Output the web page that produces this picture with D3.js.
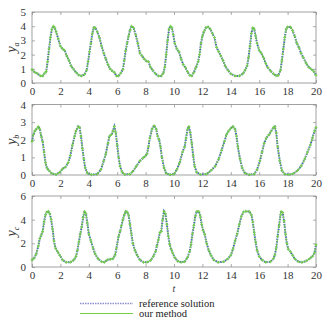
<!DOCTYPE html>
<html><head><meta charset="utf-8">
<script src="https://cdn.jsdelivr.net/npm/d3@7"></script>
<style>body{margin:0;background:#fff}svg{display:block}</style>
</head><body>
<svg id="c" width="331" height="329"></svg>
<script>
const xTicks = [0,2,4,6,8,10,12,14,16,18,20];
const yTicksA = [0,1,2,3,4,5];
const yTicksB = [0,1,2,3,4];
const yTicksC = [0,2,4,6];
const seriesNames = ["reference solution","our method"];

const tA = [0,0.2,0.4,0.6,0.75,0.9,1.0,1.1,1.2,1.3,1.4,1.5,1.6,1.7,1.85,2.0,2.15,2.3,2.45,2.6,2.75,2.9,3.1,3.3,3.5,3.7,3.85,3.95,4.05,4.15,4.25,4.35,4.45,4.6,4.75,4.9,5.05,5.2,5.35,5.5,5.65,5.8,5.95,6.1,6.25,6.4,6.5,6.6,6.7,6.8,6.9,7.0,7.15,7.3,7.45,7.6,7.75,7.9,8.05,8.2,8.35,8.5,8.7,8.9,9.1,9.25,9.35,9.45,9.55,9.65,9.75,9.85,9.95,10.05,10.2,10.35,10.5,10.65,10.8,10.95,11.1,11.25,11.4,11.55,11.7,11.8,11.9,12.0,12.1,12.25,12.4,12.55,12.7,12.85,13.0,13.15,13.3,13.45,13.6,13.8,14.0,14.3,14.6,14.85,15.0,15.15,15.25,15.35,15.45,15.55,15.65,15.75,15.85,16.0,16.15,16.3,16.45,16.6,16.8,17.0,17.2,17.35,17.5,17.6,17.7,17.8,17.9,18.0,18.2,18.35,18.5,18.65,18.8,18.95,19.1,19.3,19.5,19.7,19.85,20];
const yaRef = [0.95,0.75,0.65,0.5,0.5,0.7,0.8,1.5,2.4,3.2,3.8,4.0,3.9,3.6,3.1,2.6,2.4,2.3,1.9,1.6,1.2,1.0,0.75,0.55,0.5,0.6,0.9,1.5,2.2,2.8,3.5,3.9,3.9,3.6,3.2,2.6,2.1,1.7,1.3,1.0,0.85,0.75,0.5,0.5,0.7,0.95,1.6,2.3,2.8,3.3,3.7,4.0,3.9,3.4,2.8,2.1,1.9,1.7,1.55,1.5,1.1,0.9,0.65,0.5,0.5,0.7,1.1,2.0,3.0,3.8,4.0,3.9,3.4,2.8,2.4,2.2,1.7,1.3,1.1,0.8,0.55,0.5,0.75,1.1,1.5,2.0,2.8,3.3,3.6,3.9,3.95,3.8,3.5,3.2,2.5,2.2,1.9,1.6,1.2,0.9,0.65,0.5,0.5,0.65,0.9,1.2,1.8,2.6,3.5,3.9,3.8,3.3,2.8,2.3,2.1,1.8,1.4,1.1,0.85,0.65,0.5,0.55,0.9,1.6,2.4,3.2,3.8,3.95,3.95,3.7,3.3,2.8,2.5,2.1,1.8,1.4,1.1,0.95,0.8,0.55];
const yaOur = yaRef;

const tB = [0,0.1,0.2,0.3,0.45,0.55,0.65,0.75,0.85,0.95,1.05,1.2,1.4,1.7,1.95,2.15,2.35,2.55,2.7,2.85,3.0,3.1,3.25,3.35,3.45,3.55,3.65,3.75,3.9,4.2,4.6,4.85,5.05,5.2,5.35,5.45,5.6,5.7,5.8,5.9,6.0,6.1,6.2,6.35,6.55,6.9,7.1,7.35,7.6,7.8,7.95,8.1,8.2,8.3,8.45,8.6,8.75,8.85,8.95,9.05,9.15,9.3,9.45,9.7,10.0,10.2,10.4,10.6,10.75,10.85,10.95,11.05,11.15,11.25,11.35,11.45,11.6,11.85,12.3,12.6,12.9,13.15,13.35,13.55,13.7,13.85,14.0,14.15,14.3,14.4,14.5,14.65,14.8,15.0,15.3,15.65,15.85,16.05,16.2,16.35,16.5,16.7,16.85,17.0,17.1,17.2,17.3,17.45,17.6,17.8,18.1,18.4,18.7,18.95,19.2,19.4,19.6,19.75,19.9,20];
const ybRef = [1.9,2.3,2.5,2.6,2.75,2.6,2.2,1.9,1.3,0.7,0.4,0.25,0.08,0.03,0.15,0.35,0.45,0.7,1.1,1.7,2.2,2.5,2.75,2.7,2.2,1.5,0.9,0.4,0.1,0.02,0.05,0.3,0.8,1.2,1.8,2.2,2.3,2.5,2.75,2.4,1.7,1.0,0.5,0.15,0.03,0.05,0.2,0.5,0.8,0.95,1.05,1.2,1.6,2.1,2.6,2.8,2.6,2.2,2.0,1.6,1.0,0.4,0.1,0.02,0.05,0.3,0.7,1.3,1.6,2.1,2.6,2.75,2.4,1.8,1.1,0.5,0.15,0.03,0.05,0.25,0.5,0.9,1.4,1.9,2.3,2.5,2.65,2.75,2.6,2.2,1.6,0.9,0.4,0.1,0.02,0.05,0.3,0.8,1.3,1.8,2.1,2.3,2.5,2.7,2.75,2.4,1.6,0.8,0.25,0.05,0.02,0.08,0.25,0.5,0.9,1.3,1.7,2.1,2.5,2.7];
const ybOur = ybRef;

const tC = [0,0.15,0.3,0.45,0.55,0.65,0.75,0.85,0.95,1.05,1.15,1.25,1.35,1.45,1.55,1.65,1.8,1.95,2.15,2.4,2.7,2.95,3.1,3.2,3.3,3.4,3.5,3.6,3.7,3.8,3.9,4.0,4.15,4.3,4.45,4.65,4.9,5.1,5.3,5.5,5.7,5.85,5.95,6.1,6.2,6.3,6.4,6.5,6.6,6.7,6.8,6.9,7.0,7.1,7.25,7.4,7.6,7.85,8.1,8.35,8.55,8.7,8.8,8.9,9.0,9.1,9.2,9.3,9.4,9.5,9.6,9.7,9.8,9.9,10.05,10.25,10.5,10.75,10.95,11.1,11.2,11.3,11.4,11.5,11.6,11.75,11.85,11.95,12.05,12.15,12.3,12.45,12.6,12.8,13.1,13.5,13.8,14.0,14.15,14.3,14.45,14.6,14.75,14.9,15.05,15.3,15.45,15.55,15.65,15.75,15.85,16.0,16.2,16.45,16.8,17.0,17.1,17.2,17.3,17.4,17.5,17.55,17.65,17.75,17.85,17.95,18.05,18.2,18.35,18.5,18.75,19.0,19.3,19.55,19.75,19.9,20];
const ycRef = [0.6,0.75,1.1,1.8,2.4,2.7,3.0,3.8,4.4,4.65,4.7,4.5,4.0,3.2,2.2,1.6,1.3,1.0,0.6,0.4,0.4,0.6,0.9,1.4,2.1,2.8,3.4,4.2,4.7,4.5,3.7,2.8,2.2,1.6,1.1,0.7,0.45,0.4,0.6,0.65,0.7,1.0,1.6,2.6,3.0,3.5,4.0,4.4,4.7,4.65,4.4,3.6,2.8,2.0,1.4,1.0,0.6,0.4,0.4,0.55,0.9,1.3,1.8,2.3,2.9,3.0,4.0,4.7,4.5,3.6,2.6,1.9,1.5,1.2,0.8,0.5,0.4,0.45,0.8,1.3,1.9,2.8,3.5,4.3,4.7,4.7,4.3,3.6,3.1,2.8,2.0,1.4,1.0,0.6,0.4,0.45,0.7,1.0,1.5,2.2,2.8,3.6,4.3,4.65,4.7,4.7,4.4,3.8,2.9,2.1,1.4,0.9,0.6,0.4,0.45,0.7,1.0,1.6,2.6,3.5,4.4,4.7,4.6,3.9,2.8,2.0,1.5,1.3,1.0,0.7,0.45,0.4,0.5,0.7,0.9,1.2,1.9];
const ycOur = ycRef;

const svg = d3.select("#c");
const FONT = "'Liberation Serif','Times New Roman',serif";
const x0 = 32, x1 = 316;
const panels = [
  {t:tA, ref:yaRef, our:yaOur, dom:[0,5], ticks:yTicksA, top:12, bottom:83, sub:"a"},
  {t:tB, ref:ybRef, our:ybOur, dom:[0,4], ticks:yTicksB, top:104.5, bottom:175, sub:"b"},
  {t:tC, ref:ycRef, our:ycOur, dom:[0,6], ticks:yTicksC, top:196, bottom:267, sub:"c"}
];
const blue = "#4a62b8", green = "#74cf45", axisCol = "#8a8a8a", textCol = "#333";

panels.forEach(p => {
  const x = d3.scaleLinear().domain([0,20]).range([x0,x1]);
  const y = d3.scaleLinear().domain(p.dom).range([p.bottom,p.top]);
  const g = svg.append("g");
  g.append("rect").attr("x",x0).attr("y",p.top).attr("width",x1-x0).attr("height",p.bottom-p.top)
    .attr("fill","none").attr("stroke",axisCol).attr("stroke-width",0.8);
  const ax = (gen, tr) => {
    const a = g.append("g").attr("transform",tr).call(gen);
    a.select(".domain").remove();
    a.selectAll("line").attr("stroke",axisCol).attr("stroke-width",0.7);
    a.selectAll("text").attr("font-family",FONT).attr("font-size",11).attr("fill",textCol);
    return a;
  };
  ax(d3.axisBottom(x).tickValues(xTicks).tickSize(-3).tickPadding(4).tickFormat(d3.format("d")), `translate(0,${p.bottom})`);
  ax(d3.axisTop(x).tickValues(xTicks).tickSize(-3).tickFormat(""), `translate(0,${p.top})`);
  ax(d3.axisLeft(y).tickValues(p.ticks).tickSize(-3).tickPadding(6).tickFormat(d3.format("d")), `translate(${x0},0)`);
  ax(d3.axisRight(y).tickValues(p.ticks).tickSize(-3).tickFormat(""), `translate(${x1},0)`);
  const lbl = g.append("text").attr("transform",`translate(16,${(p.top+p.bottom)/2}) rotate(-90)`)
    .attr("text-anchor","middle").attr("font-family",FONT).attr("fill",textCol);
  lbl.append("tspan").attr("font-style","italic").attr("font-size",14).text("y");
  lbl.append("tspan").attr("font-style","italic").attr("font-size",8).attr("dy",3).text(p.sub);
  const line = d3.line().x((d,i)=>x(p.t[i])).y(d=>y(d));
  g.append("path").datum(p.ref).attr("d",line).attr("fill","none").attr("stroke",blue)
    .attr("stroke-width",2).attr("stroke-dasharray","1.5 1");
  g.append("path").datum(p.our).attr("d",line).attr("fill","none").attr("stroke",green)
    .attr("stroke-width",1.1).attr("stroke-dasharray","3 1.5");
  const s = 1.5;
  g.append("g").selectAll("path").data(p.our).join("path")
    .attr("d",(d,i)=>{const cx=x(p.t[i]), cy=y(d); return `M${cx-s},${cy}H${cx+s}M${cx},${cy-s}V${cy+s}`;})
    .attr("stroke",green).attr("stroke-width",0.8).attr("fill","none");
});

svg.append("text").attr("x",174).attr("y",292).attr("text-anchor","middle")
  .attr("font-family",FONT).attr("font-style","italic").attr("font-size",10).attr("fill",textCol).text("t");

const lg = svg.append("g");
lg.append("line").attr("x1",80).attr("x2",133).attr("y1",303.5).attr("y2",303.5)
  .attr("stroke","#8c8fd0").attr("stroke-width",1.5).attr("stroke-dasharray","1.5 1");
lg.append("line").attr("x1",80).attr("x2",133).attr("y1",313.5).attr("y2",313.5)
  .attr("stroke",green).attr("stroke-width",1.2);
lg.selectAll("text").data(seriesNames).join("text")
  .attr("x",139).attr("y",(d,i)=>307+i*10).attr("font-family",FONT).attr("font-size",10.5).attr("fill","#222").text(d=>d);
</script>
</body></html>
